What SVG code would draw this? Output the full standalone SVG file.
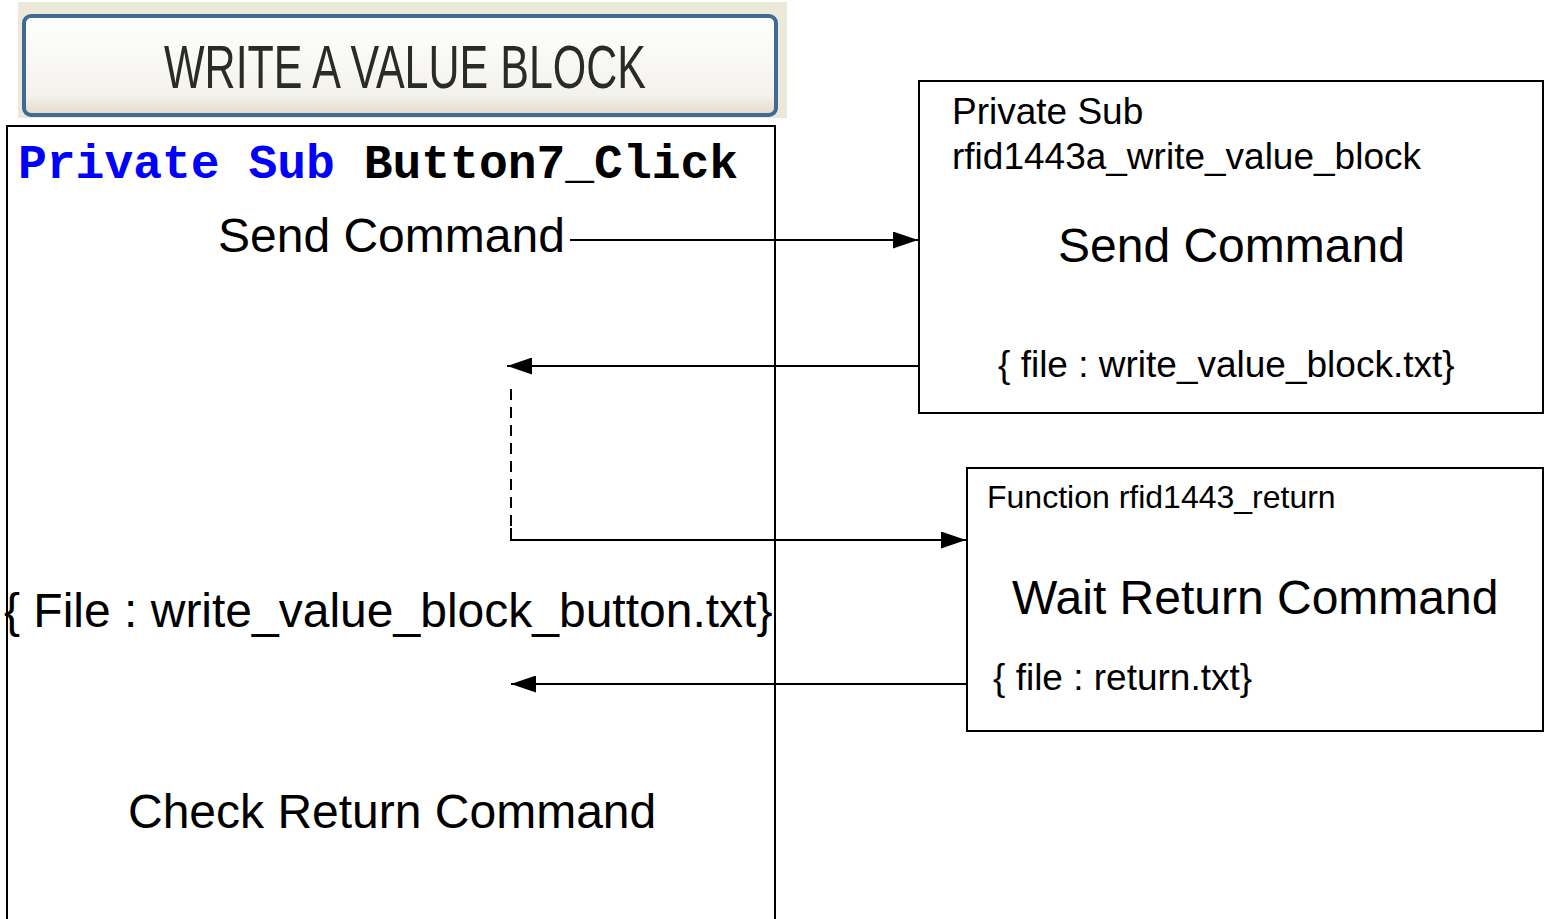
<svg xmlns="http://www.w3.org/2000/svg" width="1551" height="919" viewBox="0 0 1551 919">
<defs>
<linearGradient id="btnFill" x1="0" y1="0" x2="0" y2="1">
<stop offset="0" stop-color="#ffffff"/>
<stop offset="0.8" stop-color="#f3f2ec"/>
<stop offset="1" stop-color="#e6dac6"/>
</linearGradient>
<marker id="ah" viewBox="0 0 25 17" refX="25" refY="8.5" markerWidth="25" markerHeight="17" markerUnits="userSpaceOnUse" orient="auto">
<path d="M0,0 L25,8.5 L0,17 Z" fill="#000"/>
</marker>
<style>
.box{fill:#fff;stroke:#000;stroke-width:2}
.t{font-family:"Liberation Sans",Arial,sans-serif;fill:#000}
.c{stroke:#000;stroke-width:2;fill:none}
.code{font-family:"Liberation Mono","Courier New",monospace;font-weight:bold;font-size:48px}
</style>
</defs>
<rect width="1551" height="919" fill="#fff"/>

<g id="button">
<rect x="18" y="2" width="769" height="116" fill="#ece9d8"/>
<rect x="24" y="16" width="752" height="99" rx="7" fill="url(#btnFill)" stroke="#3f6a98" stroke-width="4"/>
<text x="164" y="88" class="t" font-size="62" textLength="482" lengthAdjust="spacingAndGlyphs" style="fill:#2a2a2a">WRITE A VALUE BLOCK</text>
</g>

<g id="button7_click">
<rect x="7" y="126" width="768" height="810" class="box"/>
<text x="18" y="178" class="code"><tspan fill="#0000ff">Private Sub</tspan> <tspan fill="#000">Button7_Click</tspan></text>
<text x="218" y="252" class="t" font-size="48">Send Command</text>
<text x="4" y="627" class="t" font-size="48">{ File : write_value_block_button.txt}</text>
<text x="128" y="828" class="t" font-size="48">Check Return Command</text>
</g>

<g id="write_value_block">
<rect x="919" y="81" width="624" height="332" class="box"/>
<text x="952" y="124" class="t" font-size="37">Private Sub</text>
<text x="952" y="169" class="t" font-size="37">rfid1443a_write_value_block</text>
<text x="1058" y="262" class="t" font-size="48">Send Command</text>
<text x="998" y="377" class="t" font-size="37">{ file : write_value_block.txt}</text>
</g>

<g id="rfid1443_return">
<rect x="967" y="468" width="576" height="263" class="box"/>
<text x="987" y="508" class="t" font-size="32">Function rfid1443_return</text>
<text x="1012" y="614" class="t" font-size="48">Wait Return Command</text>
<text x="993" y="690" class="t" font-size="37">{ file : return.txt}</text>
</g>

<g id="connectors">
<line x1="919" y1="366" x2="507" y2="366" class="c" marker-end="url(#ah)"/>
<line x1="570" y1="240" x2="918" y2="240" class="c" marker-end="url(#ah)"/>
<line x1="511" y1="389" x2="511" y2="530" class="c" stroke-dasharray="11,7"/>
<polyline points="511,528 511,540 966,540" class="c" marker-end="url(#ah)"/>
<line x1="967" y1="684" x2="511" y2="684" class="c" marker-end="url(#ah)"/>
</g>
</svg>
